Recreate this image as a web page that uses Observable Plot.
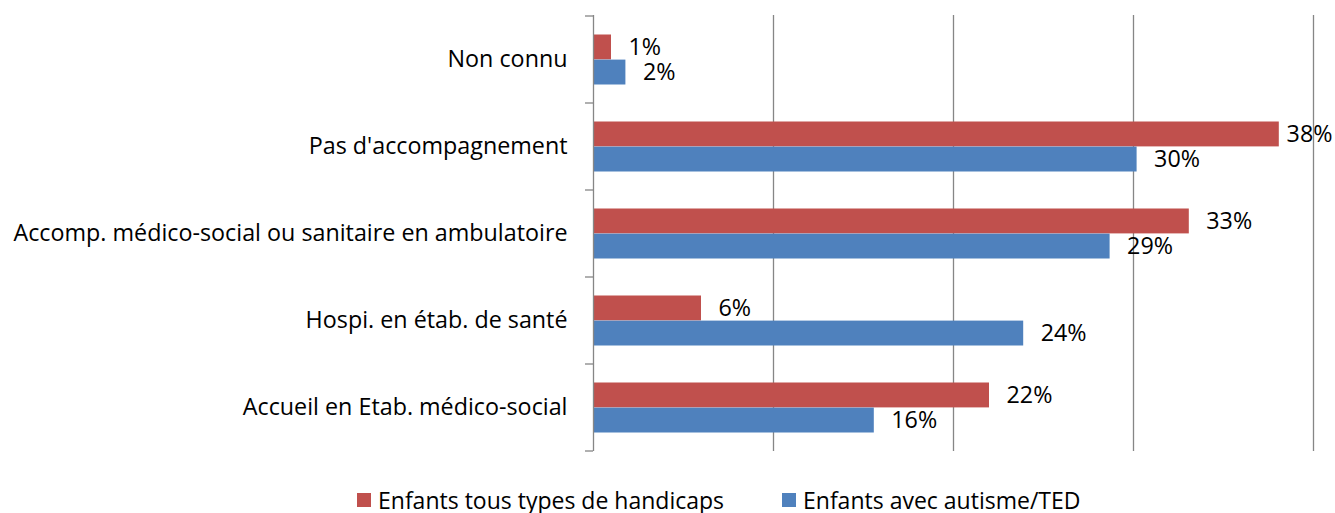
<!DOCTYPE html>
<html><head><meta charset="utf-8">
<script src="https://cdn.jsdelivr.net/npm/d3@7"></script>
<script src="https://cdn.jsdelivr.net/npm/@observablehq/plot@0.6"></script>
<style>
body{margin:0;background:#fff;font-family:"Open Sans", sans-serif;overflow:hidden;}
#chart svg{display:block;}
#legend{position:relative;width:1335px;height:43px;}
.item{position:absolute;top:20px;height:20px;line-height:20px;display:flex;align-items:center;font-size:23px;color:#000;white-space:nowrap;font-family:"Open Sans", sans-serif;}
.sw{width:14px;height:14px;margin-right:7px;flex:none;}
</style></head><body><div id="chart"></div><div id="legend"></div>
<script>
const categories = ["Non connu", "Pas d'accompagnement", "Accomp. médico-social ou sanitaire en ambulatoire", "Hospi. en étab. de santé", "Accueil en Etab. médico-social"];
const seriesNames = ["Enfants tous types de handicaps", "Enfants avec autisme/TED"];
const tousTypes = [1.0, 38.1, 33.1, 6.0, 22.0];
const autisme = [1.8, 30.2, 28.7, 23.9, 15.6];
const tousTypesLabels = ["1%", "38%", "33%", "6%", "22%"];
const autismeLabels = ["2%", "30%", "29%", "24%", "16%"];
const gridTicks = [10, 20, 30, 40];
const colors = ["#C0504D", "#4F81BD"];

const W = 1335, H = 470;
const mL = 593, mR = 22, mT = 15, mB = 19;
const xMax = 40;

const rows0 = categories.map((c, i) => ({category: c, series: seriesNames[0], value: tousTypes[i], label: tousTypesLabels[i]}));
const rows1 = categories.map((c, i) => ({category: c, series: seriesNames[1], value: autisme[i], label: autismeLabels[i]}));

// label fits to the right of its bar?
const labelW = 45, labelDx = 17;
const fits = d => mL + d.value / xMax * (W - mL - mR) + labelDx + labelW <= W;

const fontSize = 23.3;
const font = "'Open Sans', sans-serif";
const plot = Plot.plot({
  width: W, height: H,
  marginLeft: mL, marginRight: mR, marginTop: mT, marginBottom: mB,
  style: {fontFamily: font, fontSize: fontSize + "px", color: "#000", background: "#fff"},
  x: {domain: [0, xMax], axis: null},
  y: {domain: categories, padding: 0, label: null, axis: null},
  color: {domain: seriesNames, range: colors},
  marks: [
    Plot.ruleX(gridTicks, {stroke: "#868686", strokeWidth: 1.3}),
    Plot.barX(rows0, {x: "value", y: "category", fill: "series", insetTop: 18.5, insetBottom: 43.6}),
    Plot.barX(rows1, {x: "value", y: "category", fill: "series", insetTop: 43.6, insetBottom: 18.5}),
    Plot.ruleX([0], {stroke: "#868686", strokeWidth: 1.3}),
    Plot.text(rows0.filter(fits), {x: "value", y: "category", text: "label", dx: labelDx, dy: -12.5, textAnchor: "start", fontSize, fill: "#000"}),
    Plot.text(rows1.filter(fits), {x: "value", y: "category", text: "label", dx: labelDx, dy: 12.5, textAnchor: "start", fontSize, fill: "#000"}),
    Plot.text(rows0.filter(d => !fits(d)), {y: "category", text: "label", frameAnchor: "right", dx: 19, dy: -12.5, textAnchor: "end", fontSize, fill: "#000"}),
    Plot.text(rows1.filter(d => !fits(d)), {y: "category", text: "label", frameAnchor: "right", dx: 19, dy: 12.5, textAnchor: "end", fontSize, fill: "#000"}),
    Plot.axisY({tickSize: 0, tickPadding: 26, fontSize, label: null})
  ]
});
document.getElementById("chart").appendChild(plot);

// category boundary tick marks on the left axis
const ys = plot.scale("y"), xs = plot.scale("x");
const x0 = xs.apply(0);
const bounds = categories.map(c => ys.apply(c)).concat([ys.apply(categories[categories.length - 1]) + ys.bandwidth]);
d3.select(plot).append("g")
  .selectAll("line").data(bounds).join("line")
  .attr("x1", x0 - 8).attr("x2", x0)
  .attr("y1", d => d).attr("y2", d => d)
  .attr("stroke", "#868686").attr("stroke-width", 1.3);

// legend
const legendLeft = [357, 782];
const legend = d3.select("#legend");
seriesNames.forEach((s, i) => {
  const it = legend.append("div").attr("class", "item").style("left", legendLeft[i] + "px");
  it.append("span").attr("class", "sw").style("background", colors[i]);
  it.append("span").text(s);
});
</script>
</body></html>
